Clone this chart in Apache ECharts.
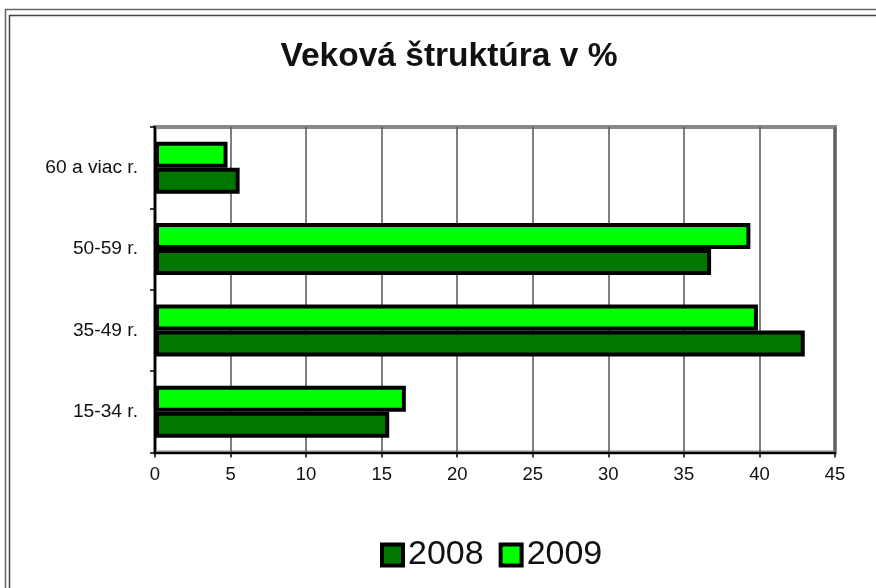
<!DOCTYPE html>
<html>
<head>
<meta charset="utf-8">
<script src="https://cdn.jsdelivr.net/npm/echarts@6/dist/echarts.min.js"></script>
<style>
html,body{margin:0;padding:0;background:#fff;}
#c{width:876px;height:588px;}
</style>
</head>
<body>
<div id="c"></div>
<script>
var categories = ['15-34 r.', '35-49 r.', '50-59 r.', '60 a viac r.'];
var values2008 = [15.5, 43.0, 36.8, 5.6];
var values2009 = [16.6, 39.9, 39.4, 4.8];
var xTicks = [0, 5, 10, 15, 20, 25, 30, 35, 40, 45];
var titleText = 'Veková štruktúra v %';

var chart = echarts.init(document.getElementById('c'), null, {renderer: 'canvas'});
var font = '"Liberation Sans", Arial, sans-serif';
chart.setOption({
  animation: false,
  backgroundColor: '#fff',
  title: {
    text: titleText,
    left: 444, top: 35,
    textAlign: 'center',
    textStyle: {fontFamily: font, fontSize: 33.5, fontWeight: 'bold', color: '#111'}
  },
  legend: {
    data: ['2008', '2009'],
    left: 375, top: 533,
    itemWidth: 21, itemHeight: 21, itemGap: 15,
    icon: 'rect',
    textStyle: {fontFamily: font, fontSize: 34, color: '#111'},
    itemStyle: {borderColor: '#000', borderWidth: 4}
  },
  grid: {
    left: 155, right: 41, top: 127, bottom: 135.5,
    show: true, borderColor: '#888', borderWidth: 4, backgroundColor: 'transparent'
  },
  xAxis: {
    type: 'value', min: xTicks[0], max: xTicks[xTicks.length - 1], interval: 5,
    axisLine: {show: true, lineStyle: {color: '#000', width: 2}},
    axisTick: {show: true, length: 5, lineStyle: {color: '#000', width: 1.5}},
    axisLabel: {fontFamily: font, fontSize: 18.5, color: '#111', margin: 13},
    splitLine: {show: true, lineStyle: {color: '#555', width: 1.5}}
  },
  yAxis: {
    type: 'category', data: categories,
    axisLine: {show: true, lineStyle: {color: '#000', width: 2}},
    axisTick: {show: true, length: 5, lineStyle: {color: '#000', width: 1.5}},
    axisLabel: {fontFamily: font, fontSize: 19.2, color: '#111', margin: 17},
    splitLine: {show: false}
  },
  series: [
    {
      name: '2009', type: 'bar', data: values2009,
      barWidth: 26, barGap: '0%',
      itemStyle: {color: '#00ff00', borderColor: '#000', borderWidth: 4}
    },
    {
      name: '2008', type: 'bar', data: values2008,
      barWidth: 26, barGap: '0%',
      itemStyle: {color: '#007800', borderColor: '#000', borderWidth: 4}
    }
  ],
  graphic: [
    {type: 'polyline', silent: true, shape: {points: [[5.5, 588], [5.5, 9.5], [876, 9.5]]}, style: {stroke: '#666', lineWidth: 1.5, fill: null}},
    {type: 'polyline', silent: true, shape: {points: [[9.5, 588], [9.5, 15.5], [876, 15.5]]}, style: {stroke: '#444', lineWidth: 1.5, fill: null}}
  ]
});
</script>
</body>
</html>
